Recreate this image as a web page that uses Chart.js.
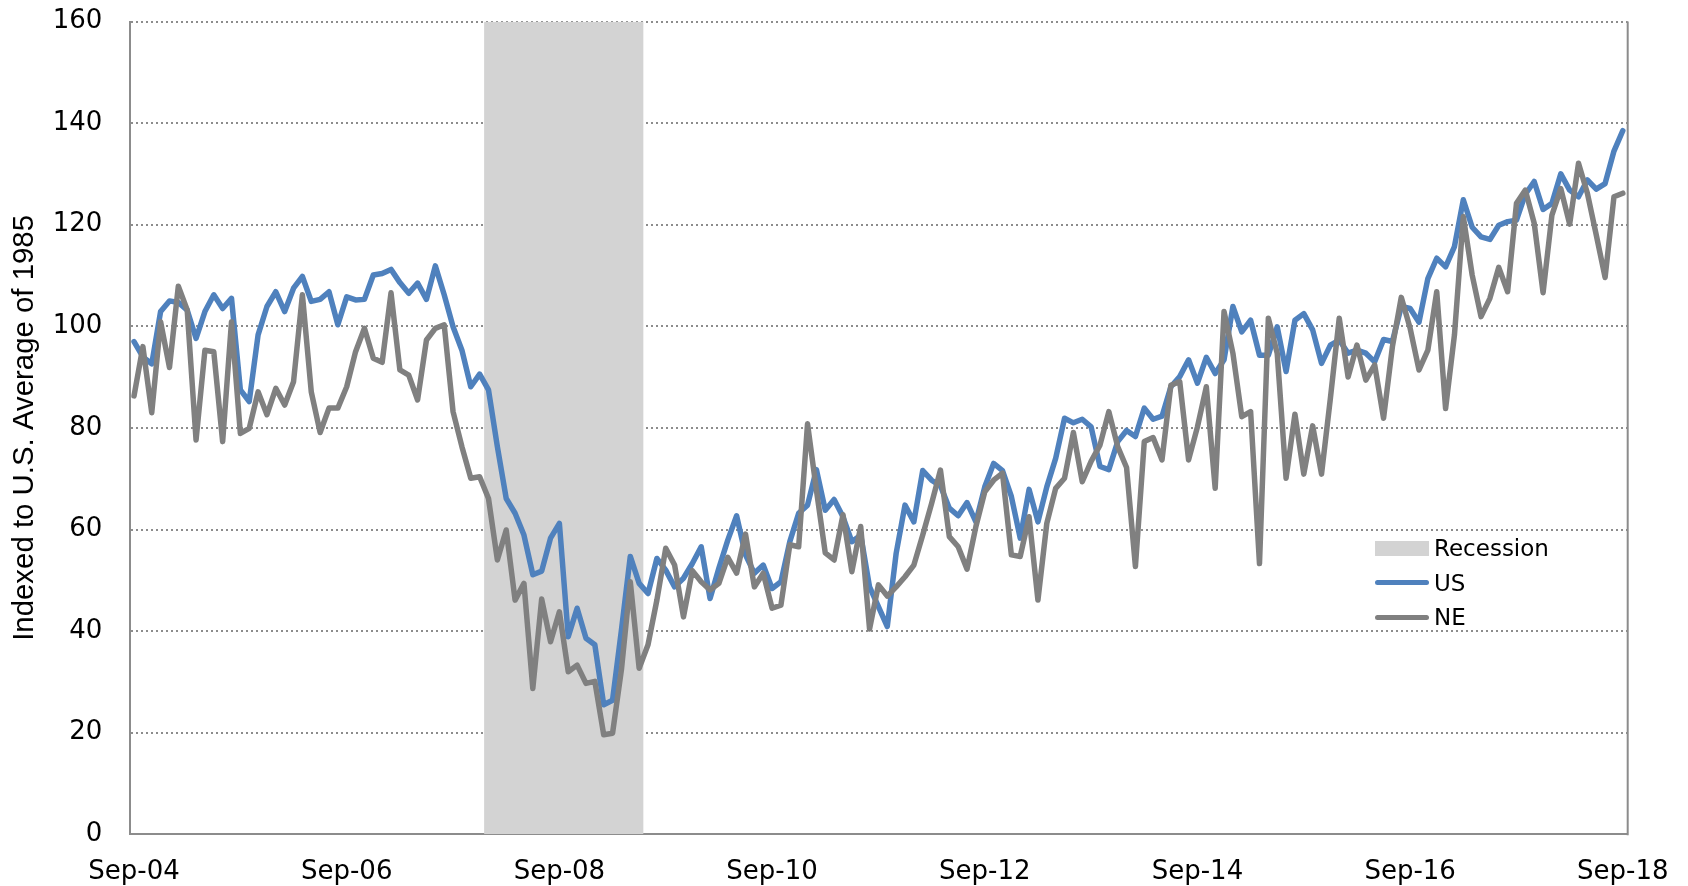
<!DOCTYPE html>
<html>
<head>
<meta charset="utf-8">
<title>US vs NE index</title>
<script src="https://cdn.jsdelivr.net/npm/chart.js@4.4.1/dist/chart.umd.min.js"></script>
<style>
  html, body { margin: 0; padding: 0; background: #fff; }
  #wrap { position: relative; width: 1688px; height: 886px; }
  #legend { position: absolute; left: 1375px; top: 531px; font: 23px "DejaVu Sans", sans-serif; color: #000; }
  #legend .row { display: flex; align-items: center; height: 34.5px; line-height: 34.5px; }
  #legend .sw { width: 54px; margin-right: 5px; }
  #legend .box { height: 15px; background: #d3d3d3; }
  #legend .ln { height: 5px; border-radius: 3px; }
</style>
</head>
<body>
<div id="wrap">
  <canvas id="myChart" width="1688" height="886"></canvas>
  <div id="legend">
    <div class="row"><div class="sw box"></div>Recession</div>
    <div class="row"><div class="sw ln" style="background:#4f81bd"></div>US</div>
    <div class="row"><div class="sw ln" style="background:#808080"></div>NE</div>
  </div>
</div>
<script>
// monthly values, index 0 = Sep-04, last = Sep-18
var usValues = [
  97.0, 94.0, 92.6, 102.9, 105.0, 104.7, 103.2, 97.6, 102.9, 106.2, 103.5, 105.5,
  87.5, 85.2, 98.3, 103.9, 106.8, 102.9, 107.5, 109.8, 104.9, 105.3, 106.8, 100.3,
  105.8, 105.2, 105.3, 110.1, 110.4, 111.2, 108.6, 106.5, 108.5, 105.3, 111.9, 106.2,
  99.9, 95.3, 88.1, 90.6, 87.5, 76.3, 66.1, 63.2, 58.9, 51.1, 51.8, 58.3,
  61.2, 38.9, 44.5, 38.6, 37.3, 25.5, 26.4, 40.2, 54.7, 49.4, 47.4, 54.3,
  52.0, 48.7, 50.4, 53.3, 56.6, 46.4, 52.4, 57.9, 62.7, 55.0, 51.4, 53.0,
  48.4, 49.7, 57.6, 63.2, 64.8, 71.8, 63.8, 65.9, 62.5, 57.6, 58.9, 48.7,
  44.8, 40.9, 55.3, 64.8, 61.5, 71.6, 69.7, 68.6, 64.2, 62.7, 65.3, 61.5,
  68.4, 73.0, 71.6, 66.5, 58.3, 67.9, 61.5, 68.4, 74.0, 81.9, 81.0, 81.7,
  80.2, 72.4, 71.8, 77.3, 79.5, 78.3, 83.9, 81.7, 82.3, 88.1, 90.1, 93.4,
  88.8, 93.9, 90.7, 93.4, 103.9, 98.9, 101.2, 94.3, 94.3, 99.9, 91.1, 101.2,
  102.5, 99.3, 92.7, 96.3, 97.3, 94.7, 95.3, 94.7, 93.0, 97.4, 97.0, 103.9,
  103.5, 100.8, 109.4, 113.4, 111.7, 115.7, 124.9, 119.5, 117.6, 117.1, 119.9, 120.6,
  120.9, 126.0, 128.5, 123.0, 124.2, 130.0, 126.8, 125.5, 128.8, 127.0, 128.1, 134.5,
  138.5
];
var neValues = [
  86.3, 96.0, 83.0, 100.9, 91.9, 107.9, 103.2, 77.6, 95.3, 95.0, 77.3, 100.9,
  78.9, 79.9, 87.1, 82.6, 87.8, 84.5, 89.1, 106.2, 87.1, 79.1, 83.9, 83.9,
  88.1, 95.0, 99.6, 93.7, 92.9, 106.6, 91.4, 90.4, 85.5, 97.3, 99.6, 100.3,
  83.2, 76.3, 70.1, 70.4, 66.1, 54.0, 59.9, 46.1, 49.4, 28.7, 46.3, 37.9,
  43.8, 32.0, 33.3, 29.7, 30.1, 19.6, 19.9, 32.4, 49.7, 32.7, 37.3, 46.1,
  56.3, 53.0, 42.8, 51.9, 49.7, 48.1, 49.4, 54.5, 51.4, 59.1, 48.7, 51.4,
  44.5, 45.1, 57.0, 56.6, 80.8, 67.8, 55.4, 54.0, 62.9, 51.7, 60.6, 40.4,
  49.1, 46.9, 48.7, 50.7, 53.0, 58.9, 65.1, 71.7, 58.6, 56.6, 52.2, 60.6,
  67.4, 69.7, 71.1, 55.0, 54.7, 62.5, 46.1, 61.2, 68.1, 70.1, 79.1, 69.4,
  73.4, 76.6, 83.2, 76.3, 72.2, 52.7, 77.3, 78.1, 73.7, 88.4, 89.1, 73.7,
  80.2, 88.1, 68.1, 102.9, 94.7, 82.2, 83.2, 53.3, 101.6, 94.7, 70.1, 82.7,
  70.9, 80.4, 70.9, 85.8, 101.6, 90.0, 96.3, 89.4, 92.4, 81.9, 96.0, 105.7,
  99.6, 91.4, 95.3, 106.8, 83.8, 98.3, 121.6, 110.1, 101.9, 105.5, 111.6, 106.8,
  124.2, 126.8, 120.3, 106.6, 121.9, 127.1, 120.1, 132.1, 126.2, 118.0, 109.6, 125.5,
  126.2
];
var tickMonths = [0, 24, 48, 72, 96, 120, 144, 168];
var tickLabels = ["Sep-04", "Sep-06", "Sep-08", "Sep-10", "Sep-12", "Sep-14", "Sep-16", "Sep-18"];
var recessionMonths = [39.5, 57.5];

var tickFont = { family: "'DejaVu Sans', sans-serif", size: 26 };
var lineGray = '#8c8c8c';

function points(vals) {
  return vals.map(function (v, i) { return { x: i, y: v }; });
}

// right-hand frame line of the plot box
var frameRight = {
  id: 'frameRight',
  afterDatasetsDraw: function (chart) {
    var a = chart.chartArea, ctx = chart.ctx;
    ctx.save();
    ctx.strokeStyle = lineGray;
    ctx.lineWidth = 2;
    ctx.beginPath();
    ctx.moveTo(a.right, a.top);
    ctx.lineTo(a.right, a.bottom + 1);
    ctx.stroke();
    ctx.restore();
  }
};

var chartCanvas = document.getElementById('myChart');
var myChart = new Chart(chartCanvas, {
  type: 'line',
  data: {
    datasets: [{
      label: 'NE',
      data: points(neValues),
      borderColor: '#808080',
      borderWidth: 5.5,
      pointRadius: 0,
      tension: 0,
      borderJoinStyle: 'round',
      borderCapStyle: 'round',
      order: 0
    },
    {
      label: 'US',
      data: points(usValues),
      borderColor: '#4f81bd',
      borderWidth: 5.5,
      pointRadius: 0,
      tension: 0,
      borderJoinStyle: 'round',
      borderCapStyle: 'round',
      order: 1
    },
    {
      label: 'Recession',
      data: [{ x: recessionMonths[0], y: 160 }, { x: recessionMonths[1], y: 160 }],
      fill: 'origin',
      backgroundColor: '#d3d3d3',
      borderColor: 'rgba(0,0,0,0)',
      borderWidth: 0,
      pointRadius: 0,
      order: 2
    }]
  },
  options: {
    responsive: false,
    animation: false,
    devicePixelRatio: 1,
    layout: { padding: { left: 0, right: 60.3, top: 21.5, bottom: 0 } },
    plugins: {
      legend: { display: false },
      tooltip: { enabled: false }
    },
    scales: {
      x: {
        type: 'linear',
        min: -0.42,
        max: 168.55,
        afterBuildTicks: function (scale) {
          scale.ticks = tickMonths.map(function (m) { return { value: m }; });
        },
        afterFit: function (scale) {
          scale.height = 51.7;
          scale.paddingLeft = 0;
          scale.paddingRight = 0;
        },
        ticks: {
          autoSkip: false,
          maxRotation: 0,
          padding: 22,
          color: '#000',
          font: tickFont,
          callback: function (value) { return tickLabels[tickMonths.indexOf(value)]; }
        },
        grid: { display: false, drawTicks: false },
        border: { display: true, color: lineGray, width: 2 }
      },
      y: {
        min: 0,
        max: 160,
        afterFit: function (scale) {
          scale.width = 130.3;
          // the tick padding would otherwise push the plot top down
          scale.paddingTop = 0;
          scale.paddingBottom = 0;
        },
        ticks: { stepSize: 20, padding: 28, color: '#000', font: tickFont },
        grid: { color: lineGray, lineWidth: 2, drawTicks: false },
        border: { display: true, color: lineGray, width: 2, dash: [2, 3] },
        title: {
          display: true,
          text: 'Indexed to U.S. Average of 1985',
          color: '#000',
          font: { family: "'Liberation Sans', Arial, sans-serif", size: 29.4 },
          padding: { top: 7, bottom: 0 }
        }
      }
    }
  },
  plugins: [frameRight]
});
</script>
</body>
</html>
